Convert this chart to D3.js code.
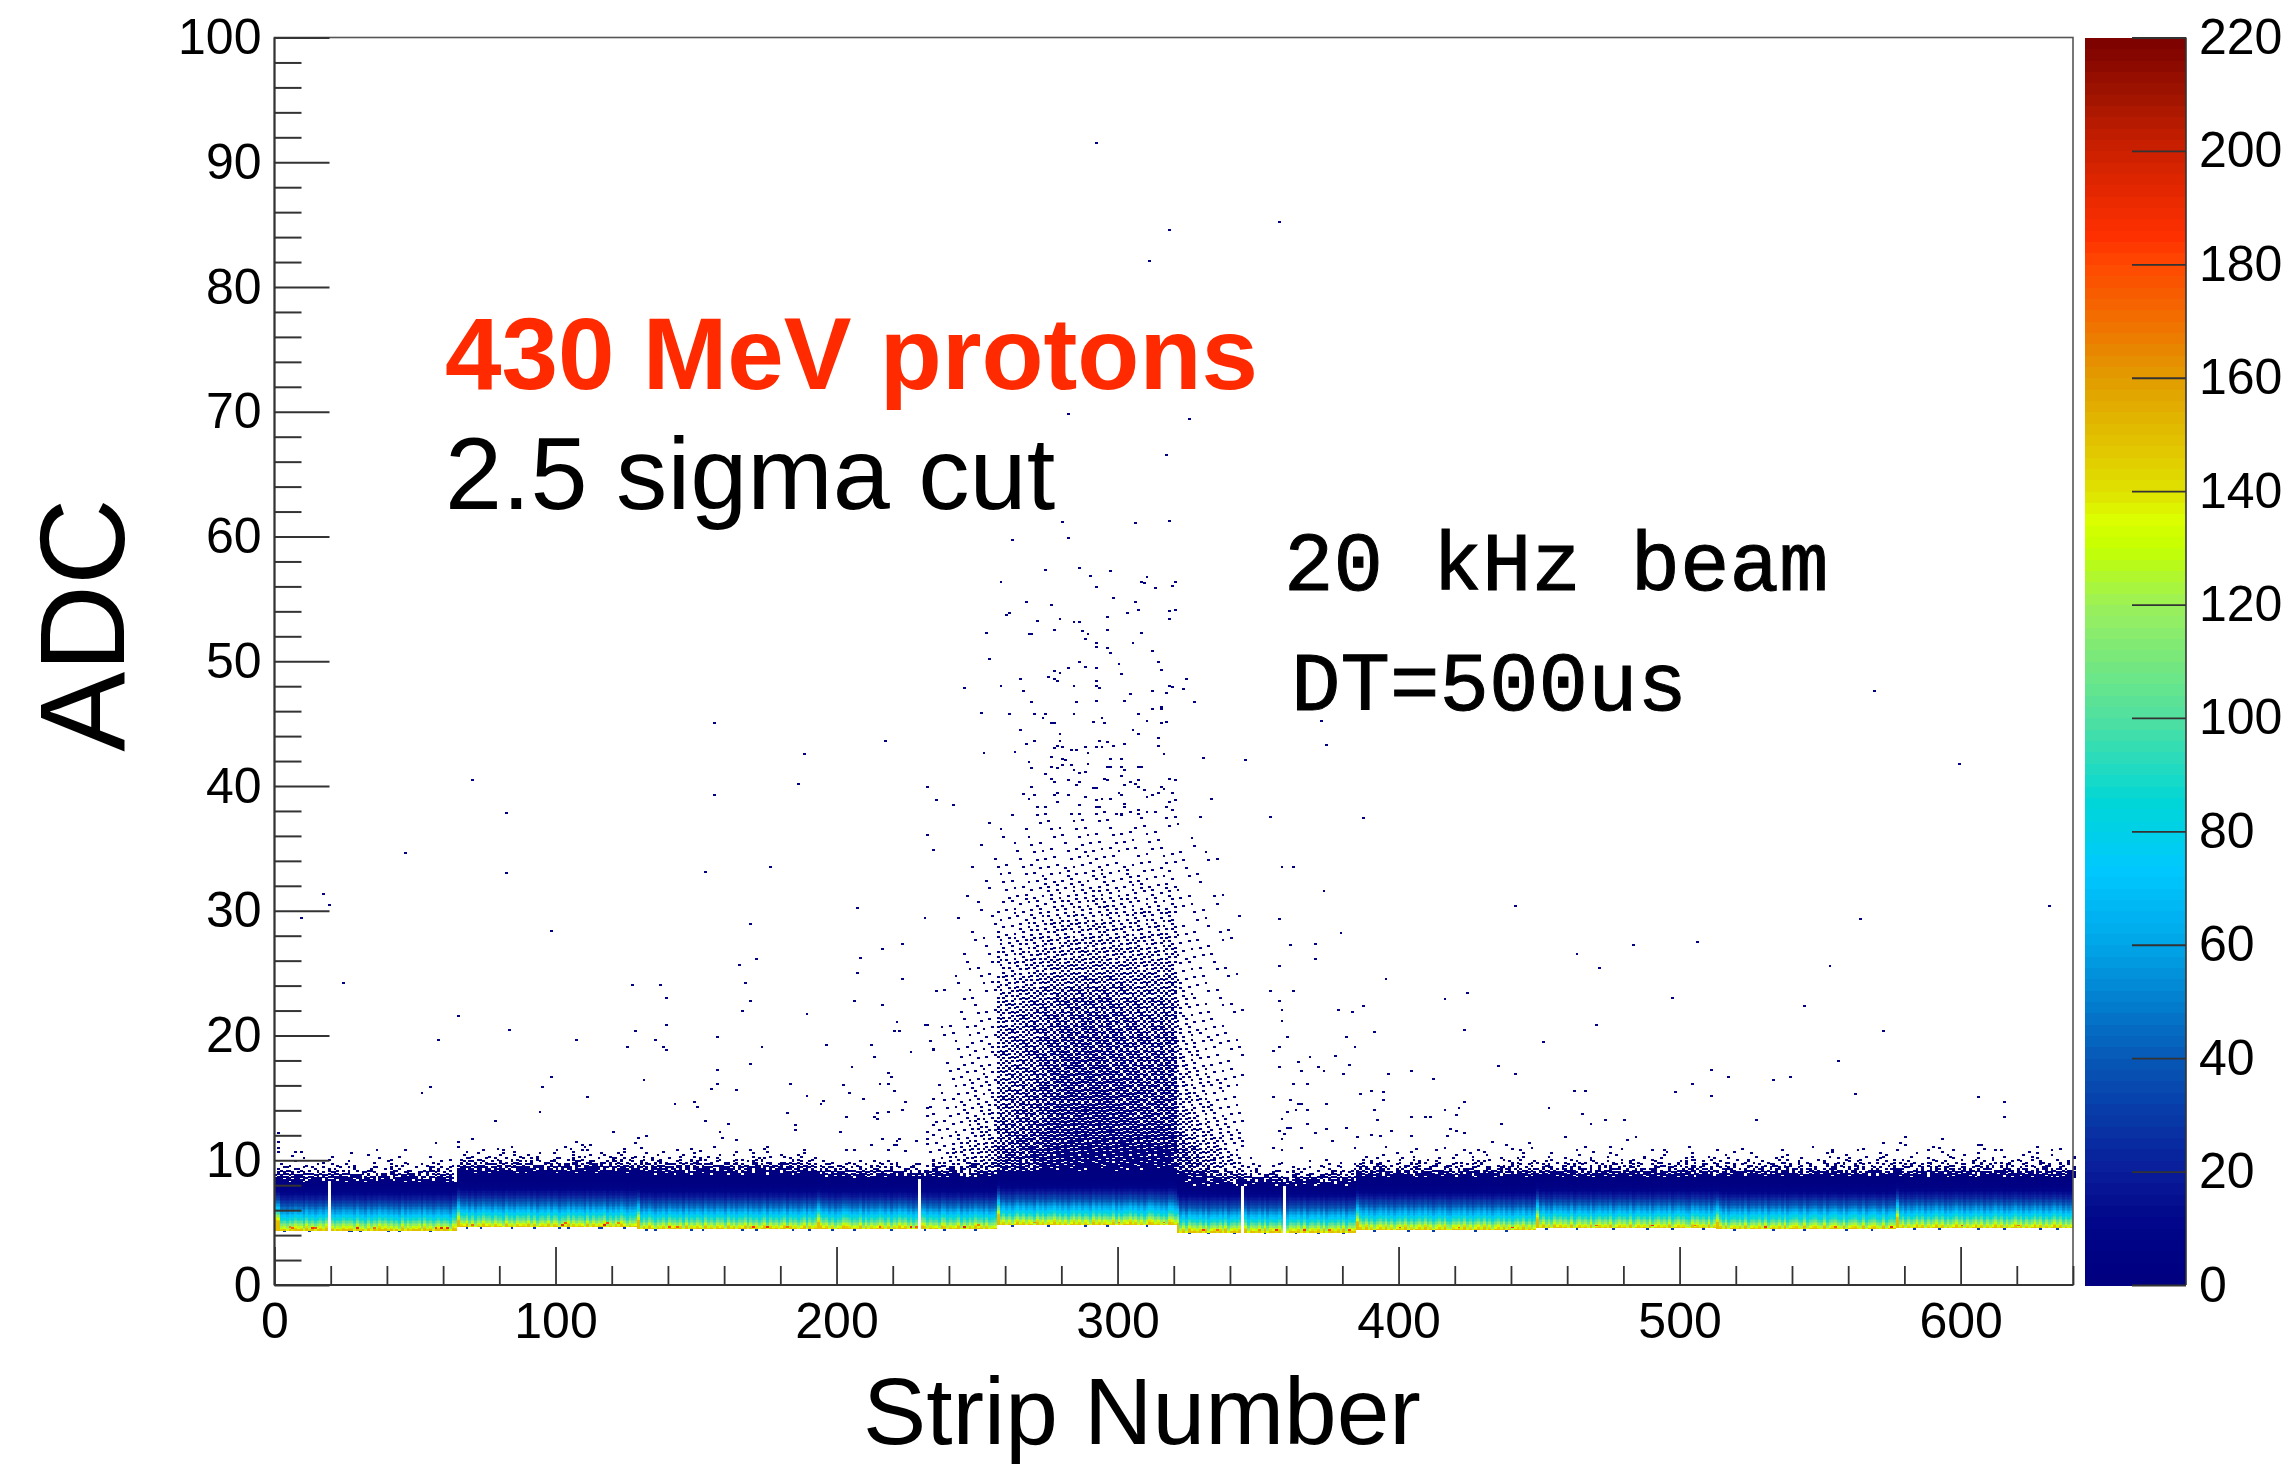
<!DOCTYPE html>
<html>
<head>
<meta charset="utf-8">
<script src="https://cdn.jsdelivr.net/npm/d3@7"></script>
<style>
    html, body { margin: 0; padding: 0; background: #fff; }
    svg text { font-family: "Liberation Sans", Arial, sans-serif; fill: #000; }
</style>
</head>
<body>
<div id="chart"></div>
<script>
// ticks
const xMajor = [0, 100, 200, 300, 400, 500, 600];
const xMinor = [20, 40, 60, 80, 120, 140, 160, 180, 220, 240, 260, 280, 320, 340, 360, 380, 420, 440, 460, 480, 520, 540, 560, 580, 620, 640];
const yMajor = [0, 10, 20, 30, 40, 50, 60, 70, 80, 90, 100];
const yMinor = [2, 4, 6, 8, 12, 14, 16, 18, 22, 24, 26, 28, 32, 34, 36, 38, 42, 44, 46, 48, 52, 54, 56, 58, 62, 64, 66, 68, 72, 74, 76, 78, 82, 84, 86, 88, 92, 94, 96, 98];
const zTicks = [0, 20, 40, 60, 80, 100, 120, 140, 160, 180, 200, 220];

// palette
const paletteValues = [0, 10, 20, 40, 60, 73, 85, 100, 120, 130, 135, 140, 160, 170, 180, 185, 200, 210, 220];
const paletteColors = ["#00007f", "#000488", "#0a1c9a", "#0658b5", "#00a5e8", "#00c8ff", "#00d6d8", "#50e0a0", "#9cf05a", "#c4ff00", "#dcff00", "#e0e000", "#e29c00", "#f07000", "#ff4800", "#ff3000", "#cc2000", "#a01400", "#7a0000"];

// pedestal band, one entry per readout chip (64 strips)
const binWidth = 0.125;
const segStarts = [0, 65, 129, 193, 257, 321, 385, 449, 513, 577];
const bandFloor = [4.35, 4.62, 4.46, 4.46, 4.8, 4.2, 4.4, 4.55, 4.45, 4.55];
const bandTop = [8.2, 8.9, 8.8, 8.5, 9, 7.9, 8.6, 8.6, 8.6, 8.6];
const bandProfile = [146, 132, 124, 114, 106, 98, 90, 84, 78, 72, 66, 60, 55, 50, 45, 40, 36, 32, 28, 24, 20, 17, 14, 11, 9, 7, 6, 5, 4, 3, 2];
const deadStrips = [19, 229, 344, 359];
const brightStrips = [0, 1, 65, 129, 193, 257, 321, 385, 449, 513, 577];

// relative strip gain, 0-9, estimated column by column
const stripGain = [
    "8745364756284635748263547566384527364857463528374657284635746528",
    "7465837264856374528463756483725648376254837465283746582637485264",
    "5637485264738564728364752846375628473658274635827463582746358274",
    "6485736254876354827364586372648573625487364528736458263748562734",
    "5847362584736528473658473625847365284736548273658473625874635287",
    "4637285647382564738256473826547382654738265473825647382564738265",
    "6574836257483625748362574836257483265748362574836257483625748362",
    "5748362857463825746382574638257463825746382574638257463285746382",
    "6473825647382564738256473825674382567438256743825674382567438256",
    "5847263584726358472635847263584726358472635847263584726358472635"
].join("");

// single hot cells near the floor of the band: strip, ADC, entries
const hotCells = [[5, 4.6, 165], [6, 4.5, 175], [13, 4.5, 185], [14, 4.5, 178], [29, 4.5, 190], [35, 4.5, 170], [57, 4.5, 180], [59, 4.5, 195], [61, 4.5, 188],
    [70, 4.75, 170], [102, 4.75, 190], [103, 4.9, 175], [117, 4.75, 195], [118, 4.9, 180], [122, 4.9, 165],
    [140, 4.6, 180], [143, 4.6, 175], [170, 4.6, 185], [175, 4.6, 190], [182, 4.6, 170],
    [215, 4.6, 175], [226, 4.6, 190], [228, 4.6, 175], [245, 4.6, 195], [250, 4.75, 165],
    [270, 4.95, 160], [300, 4.95, 165], [316, 4.95, 170],
    [330, 4.33, 185], [335, 4.33, 170], [350, 4.33, 160], [356, 4.33, 190], [366, 4.33, 185], [375, 4.33, 175], [382, 4.33, 180],
    [400, 4.55, 180], [421, 4.55, 170], [440, 4.55, 185], [470, 4.7, 175], [490, 4.7, 190], [505, 4.7, 170],
    [530, 4.6, 185], [555, 4.6, 175], [575, 4.6, 190], [600, 4.7, 180], [620, 4.7, 170]];

// strips with a few blue entries just under the band floor
const lowStrips = [3, 12, 26, 27, 30, 40, 44, 55, 68, 73, 84, 92, 101, 104, 115, 116, 124, 132, 135, 148, 152, 166, 171, 184, 190, 198, 206, 219, 231, 238, 249,
    262, 275, 288, 296, 310, 325, 332, 341, 352, 363, 371, 380, 391, 403, 412, 427, 438, 452, 463, 476, 488, 497, 508, 519, 533, 544, 559, 568, 583, 592, 606, 615, 628, 634];

// top edge of the band: rows going up from ADC 8.0 in bins of 0.125, one hex group per chip,
// each bit one strip. The pattern follows the density seen in the picture, not each single hit.
const fringeRows = [
    "0 0 0 0 0 fdeffb7fefdfbff7",
    "0 0 0 0 0 ffbdf7effefbdf7f",
    "fbdfefbf7ffdeffb 0 0 0 0 edb7a7f6d5bfe97b",
    "ffefbdfbf7dfbf7e 0 0 0 0 b7edd7b6fd7bebde",
    "edb7a7f6d5bfe97b 0 0 fdfbefff7bdfeff7 0 a5c3691e4b36d25a 0",
    "7bed5fdeb7a7edb6 0 0 effbdf7fffedfb7f 0 5a3c96e1b4693da5 fdeffb7fefdfbff7 ffbdf7effefbdf7f efdfbfdf7bfdeffb fbefdff7fdbf7ebf",
    "a5c3691e4b36d25a 0 0 edb7a7f6d5bfe97b 0 52a14c2190631a48 dfbff7fdefbfeffd fefbdf7fbdeffb7e f7dfbefdffbefdbf bfeff7dbfdf7fbef",
    "5a3c96e14b69d2a5 0 fdfbefdf7bfdfeff b7edd7b6fd7bebde 0 2c4912a4603185a2 edb7a7f6d5bfe97b b7ed6fd7ebbd7eda 7bded7fa5bef6db7 db6fbdeb76fdad77",
    "52a14c2190631a48 fdeffb7fefdfbff7 ffdfbefff7bdefbf a5c3691e4b36d25a f7ddfffffffffbff 4182140821480124 d6bb6de7adf5b76d 6fdeb5bd7beed6ba b7eb5dd6bf7ad7ed ededb76bdf5bb76f",
    "2c4912a4603185a2 ffbdf7effefbdf7f edb7a7f6d5bfe97b 5a3c96e14b69d2a5 edb7fffbffdfffff 1824412818402192 a5c3691e4b36d25a 5a3c96e1b4693da5 963ca5d2695ac3e1 c35a69b41ed2a596",
    "4182140821480124 edb7a7f6d5bfe97b b7ed6fd7ebbd7eda 52a14c2190631a48 b6edfbfefffdefff 0410020800140201 5ad296e14bc336a5 a569d23c96e14b5a 3ca5965ad2e1694b e14b5aa5c3962d69",
    "1824412818402192 7bed5fdeb7a7edb6 d6bb6de7adf5b76d 2c4912a4603185a2 7bd6efdffbf7ffbe 2001084000410820 52a14c2190631a48 2c4912a4603185a2 4a1292c4106528a1 184a6192a5084c21",
    "0410020800140201 a5c3691e4b36d25a a5c3691e4b36d25a 4182140821480124 d6b5fbeffdffdfef 0100800420001040 a1486218c4102942 186412a1482c5190 92184ca241286105 2491180ca5428610",
    "2001084000410820 5a3c96e14b69d2a5 5a3c96e1b4693da5 1824412818402192 a5dbdf7ffbefbf7b 0020001008000201 4182140821480124 2814811824412418 8241182441244812 1448218241841224",
    "0000400010020080 52a14c2190631a48 52a14c2190631a48 0410020800140201 5ab6f6ddefbdfbed 0001000004000020 2481128414280142 8121441248182481 1824218482141241 4218841214821824",
    "0100002000800010 2c4912a4603185a2 4182140821480124 2001084000410820 b5a5bf7bdeb7ef7e 0000200000010000 0410020800140201 1002084040201410 4010800402012008 0802401100481004",
    "0000100000400002 4182140821480124 2481128414280142 0 0 0004000000000400 2001084000410820 0408100220400182 0110024008021041 2004010820108040",
    "0020000004000000 1824412818402192 0410020800140201 0 0 0000002000000000 0100800420001040 0020100002080401 0800040200110020 0010080420002001",
    "0000080000000100 0410020800140201 2001084000410820 0 0 0 1000080000400010 0800004002000104 0002010000800410 0400100002008001",
    "0000000040000000 2001084000410820 0100800420001040 0 0 0 0040000010020000 0001000800040000 1000004000020008 0000208000040100",
    "0000001000000000 0100800420001040 1000080000400010 0 0 0 0002000000800010 0400002000000100 0008000001000020 0100000400002000",
    "0100000000000000 1000080000400010 0040000010020000 0 0 0 0000100000040000 0000080000020000 0200000000400000 0000800000010000",
    "0000000000020000 0040000010020000 0002000000800010 0 0 0 0000000800000020 0002000000400000 0000010000002000 0010000004000000",
    "0 0002000000800010 0000100000040000 0 0 0 0000040000000100 0000000200000000 0040000000000800 0000000100000020",
    "0 0000100000040000 0000001000020000 0 0 0 0020000000000000 0000400000000200 0000000020000000 0004000000002000"
];

// beam spot: percent of cells filled. One row per ADC unit from 8 up,
// one column per 4 strips from strip 233. The single hits inside this area are too dense to read
// one by one, so the spot is drawn as a halftone of this grid, not as the original hits.
const spotFirstStrip = 233;
const spotStripStep = 4;
const spotFirstAdc = 8;
const spotDensity = [
    [0, 0, 0, 0, 0, 0, 0, 0, 0, 0, 0, 0, 0, 0, 0, 0, 0, 0, 0, 0, 0, 0, 70, 55, 45, 35, 28, 22],
    [5, 8, 12, 16, 20, 25, 0, 0, 0, 0, 0, 0, 0, 0, 0, 0, 0, 0, 0, 0, 0, 0, 62, 50, 38, 28, 20, 15],
    [8, 12, 18, 22, 25, 30, 55, 60, 66, 72, 76, 80, 85, 85, 85, 85, 85, 85, 85, 85, 85, 85, 60, 45, 35, 28, 20, 15],
    [6, 8, 12, 16, 20, 24, 48, 52, 58, 62, 66, 70, 74, 76, 76, 76, 76, 76, 74, 74, 74, 76, 45, 35, 25, 20, 14, 10],
    [4, 6, 10, 12, 16, 20, 42, 46, 52, 58, 63, 67, 70, 72, 72, 72, 72, 70, 68, 68, 66, 68, 35, 28, 20, 15, 10, 7],
    [3, 5, 8, 10, 14, 16, 40, 42, 50, 55, 60, 65, 68, 70, 70, 70, 68, 66, 66, 64, 62, 66, 30, 22, 15, 12, 8, 6],
    [3, 4, 7, 9, 12, 14, 38, 40, 46, 52, 58, 63, 66, 68, 68, 68, 66, 64, 62, 62, 60, 64, 25, 18, 13, 10, 7, 5],
    [2, 4, 6, 8, 10, 12, 36, 38, 44, 50, 56, 60, 64, 66, 66, 66, 64, 62, 60, 58, 58, 61, 22, 16, 12, 9, 6, 4],
    [2, 3, 6, 7, 9, 11, 34, 38, 42, 48, 54, 58, 62, 64, 64, 64, 62, 60, 58, 56, 56, 58, 20, 15, 11, 8, 5, 4],
    [2, 3, 5, 6, 8, 10, 32, 36, 40, 46, 52, 56, 60, 62, 62, 62, 60, 58, 56, 54, 54, 56, 18, 14, 10, 7, 5, 3],
    [1, 3, 4, 6, 8, 9, 32, 36, 40, 44, 50, 54, 58, 60, 60, 60, 58, 56, 54, 52, 52, 54, 16, 12, 9, 6, 4, 3],
    [1, 2, 4, 5, 7, 8, 30, 34, 38, 42, 48, 52, 56, 58, 58, 58, 56, 54, 52, 50, 50, 52, 15, 11, 8, 6, 4, 3],
    [1, 2, 3, 5, 6, 7, 30, 32, 36, 40, 46, 50, 54, 56, 56, 56, 54, 52, 50, 48, 48, 50, 14, 10, 7, 5, 3, 2],
    [1, 2, 3, 4, 5, 6, 27, 30, 34, 38, 44, 46, 50, 52, 52, 52, 50, 48, 46, 44, 44, 46, 13, 9, 6, 5, 3, 2],
    [1, 1, 3, 4, 5, 5, 24, 27, 31, 36, 40, 44, 46, 48, 48, 48, 46, 44, 42, 42, 42, 44, 12, 8, 6, 4, 3, 2],
    [1, 1, 2, 3, 4, 5, 21, 24, 28, 32, 36, 39, 41, 42, 42, 42, 41, 39, 38, 36, 38, 40, 11, 7, 5, 4, 2, 2],
    [0, 1, 2, 3, 4, 4, 18, 21, 24, 28, 32, 34, 36, 37, 37, 36, 36, 34, 32, 32, 32, 34, 10, 7, 5, 3, 2, 1],
    [0, 1, 2, 3, 3, 4, 15, 17, 20, 24, 27, 29, 31, 32, 31, 31, 31, 29, 29, 27, 27, 29, 9, 6, 4, 3, 2, 1],
    [0, 1, 1, 2, 3, 3, 13, 15, 17, 20, 23, 25, 27, 27, 27, 27, 27, 25, 25, 23, 23, 25, 8, 6, 4, 3, 2, 1],
    [0, 1, 1, 2, 3, 3, 11, 12, 15, 17, 20, 21, 23, 23, 23, 23, 23, 21, 21, 20, 20, 21, 7, 5, 4, 2, 2, 1],
    [0, 0, 1, 2, 2, 3, 9, 10, 12, 14, 16, 18, 19, 19, 19, 19, 19, 18, 18, 16, 16, 18, 6, 5, 3, 2, 2, 1],
    [0, 0, 1, 1, 2, 2, 8, 9, 11, 12, 14, 16, 17, 17, 17, 17, 17, 16, 16, 14, 14, 16, 5, 4, 3, 2, 1, 1],
    [0, 0, 1, 1, 2, 2, 6, 7, 9, 10, 11, 13, 14, 14, 14, 14, 14, 13, 13, 11, 11, 13, 5, 4, 3, 2, 1, 1],
    [0, 0, 1, 1, 1, 2, 5, 6, 7, 8, 9, 11, 12, 12, 12, 12, 11, 11, 11, 9, 9, 11, 4, 3, 2, 2, 1, 1],
    [0, 0, 0, 1, 1, 2, 4, 5, 6, 7, 8, 9, 10, 10, 10, 10, 9, 9, 9, 8, 8, 9, 4, 3, 2, 1, 1, 0],
    [0, 0, 0, 1, 1, 1, 3, 4, 5, 6, 6, 7, 8, 8, 8, 8, 7, 7, 7, 6, 6, 7, 3, 3, 2, 1, 1, 0],
    [0, 0, 0, 1, 1, 1, 3, 3, 4, 5, 5, 5, 6, 6, 6, 6, 6, 5, 5, 5, 5, 6, 3, 2, 2, 1, 1, 0],
    [0, 0, 0, 0, 1, 1, 2, 3, 3, 4, 4, 4, 5, 5, 5, 5, 5, 4, 4, 4, 4, 5, 2, 2, 1, 1, 0, 0],
    [0, 0, 0, 0, 1, 1, 2, 2, 3, 3, 4, 4, 4, 4, 4, 4, 4, 4, 4, 4, 4, 4, 2, 2, 1, 1, 0, 0],
    [0, 0, 0, 0, 0, 1, 2, 2, 3, 3, 3, 3, 3, 4, 4, 4, 3, 3, 3, 3, 3, 4, 2, 1, 1, 0, 0, 0]
];

// single hits: strip, ADC
const sparseHits = [
    // left of the spot
    [156, 45], [217, 43.6], [188, 42.5], [70, 40.4], [186, 40.1], [232, 39.9], [156, 39.2], [82, 37.8], [232, 36], [234, 34.8], [46, 34.6], [176, 33.5], [153, 33.1], [82, 33],
    [17, 31.3], [19, 30.4], [207, 30.2], [9, 29.4], [231, 29.4], [169, 28.9], [98, 28.3], [223, 27.3], [216, 26.9], [208, 26.2], [171, 26.1], [165, 25.6], [207, 25], [223, 24.5],
    [24, 24.2], [167, 24.2], [127, 24], [137, 24], [139, 23], [169, 22.7], [206, 22.7], [216, 22.4], [166, 21.9], [65, 21.5], [189, 21.65], [221, 21], [231, 20.8], [232, 20.8],
    [139, 20.8], [83, 20.4], [128, 20.3], [220, 20.3], [222, 20.3], [157, 19.8], [58, 19.6], [107, 19.6], [135, 19.6], [196, 19.2], [212, 19.2], [125, 19.05], [138, 19.05],
    [139, 18.8], [173, 19.05], [234, 18.8], [226, 18.6], [213, 18.2], [169, 17.7], [205, 17.45], [157, 17.2], [218, 16.95], [98, 16.6], [219, 16.6], [131, 16.35], [55, 15.85],
    [95, 15.85], [157, 16.1], [183, 16.1], [202, 16], [215, 16.1], [218, 16.1], [155, 15.7], [164, 15.6], [52, 15.35], [204, 15.35], [220, 15.5], [111, 15], [189, 15.1],
    [209, 14.85], [234, 14.9], [195, 14.7], [194, 14.5], [149, 14.6], [142, 14.5], [150, 14.25], [224, 14.6], [232, 14.15], [223, 14], [214, 13.75], [218, 13.85], [94, 13.85],
    [182, 13.75], [203, 13.4], [213, 13.4], [214, 13.25], [232, 13.5], [78, 13.1], [153, 13.1], [161, 12.85], [185, 12.75], [185, 12.35], [234, 12.75], [120, 12.25], [158, 12.25],
    [201, 12.25], [232, 12.25], [1, 12.1], [132, 11.9], [129, 11.75], [70, 11.65], [159, 11.75], [216, 11.65], [222, 11.65], [232, 11.65],
    [57, 11.3], [65, 11.4], [65, 11], [81, 10.8], [103, 11], [107, 11.4], [109, 11.15], [112, 11.15], [109, 10.8], [128, 11.3], [130, 10.9], [151, 10.7], [164, 11.55],
    [212, 11.15], [220, 11.15], [221, 11.15], [221, 11.5], [232, 11.25], [228, 11.5], [203, 10.8], [206, 10.8], [218, 10.8], [224, 10.7],
    [1, 11.4], [1, 10.9], [1, 10.65], [6, 10.3], [9, 10.65], [36, 10.8], [44, 10.2],
    // above the spot
    [292, 91.5], [318, 84.5], [311, 82], [357, 85.2], [282, 69.8], [325, 69.4], [317, 66.5], [280, 61.1], [306, 61], [318, 61.2], [262, 59.7], [282, 59.8],
    [274, 57.3], [286, 57.4], [290, 56.8], [297, 57.2], [310, 56.7], [308, 56.3], [309, 56.2], [320, 56.3], [319, 56], [258, 56.3], [292, 55.9], [313, 55.8],
    [298, 55], [306, 54.7], [267, 54.7], [276, 54.45], [307, 54.1], [318, 54], [320, 54.1], [303, 53.8], [261, 53.8], [260, 53.7], [296, 53.5], [318, 53.35], [279, 53.35], [271, 53.2], [284, 53.1], [286, 53.1],
    [277, 52.5], [296, 52.5], [287, 52.4], [253, 52.2], [268, 52.1], [269, 52.1], [289, 52.1], [308, 52.2], [288, 51.75], [305, 51.4], [292, 51.4], [292, 51.1], [296, 51], [297, 50.65], [312, 50.75],
    [254, 50.15], [286, 49.9], [314, 49.9], [300, 49.75], [288, 49.5], [292, 49.4], [282, 49.4], [315, 49.25], [277, 49.15], [279, 49], [301, 48.9], [275, 48.7], [277, 48.5], [278, 48.4], [265, 48.5], [292, 48.4], [324, 48.5],
    [258, 48], [284, 48], [292, 48], [318, 48], [319, 47.9], [245, 47.8], [293, 47.8], [266, 47.55], [312, 47.55], [323, 47.7], [317, 47.4], [304, 47.3],
    [269, 46.7], [285, 46.7], [292, 46.75], [302, 46.8], [327, 46.7], [315, 46.3], [315, 46.1], [312, 46.1], [251, 45.8], [261, 45.7], [270, 45.7], [274, 45.7], [273, 45.4], [284, 45.7], [307, 45.7], [294, 45.4], [310, 45.2],
    [276, 45], [277, 45], [291, 45.1], [295, 45], [315, 45], [317, 45.1], [265, 44.45], [305, 44.45], [279, 44.1], [307, 44.1], [314, 43.8], [270, 43.6], [279, 43.6], [293, 43.6], [296, 43.5], [267, 43.3], [278, 43.2], [302, 43.35], [298, 43.2], [314, 43.2],
    [280, 43.1], [277, 43], [283, 42.85], [285, 42.85], [288, 43.1], [292, 43.1], [294, 43.1], [289, 42.6], [263, 42.7], [252, 42.6], [316, 42.5], [330, 42.2], [345, 42],
    [276, 42.3], [280, 42.1], [281, 42], [283, 41.65], [297, 42.1], [301, 42.1], [289, 41.75], [268, 41.9], [269, 41.4], [276, 41.5], [278, 41.4], [280, 41.65], [284, 41.25], [286, 41], [288, 41.1], [296, 41.5], [297, 41.5], [301, 41.5], [302, 41.25], [307, 41.5], [308, 41.5],
    [274, 40.9], [301, 40.75], [276, 40.5], [277, 40.3], [282, 40.4], [286, 40.3], [285, 40], [295, 40.5], [296, 40.4], [304, 40.3], [307, 40.4], [318, 40.5], [320, 40.4], [306, 40.15], [302, 40], [307, 39.9], [309, 39.65], [315, 39.9], [316, 39.75],
    [232, 39.9], [269, 39.9], [291, 39.8], [292, 39.8], [235, 38.8], [241, 38.4], [333, 38.9],
    [266, 39.3], [270, 39.2], [268, 38.9], [277, 39.2], [278, 39.4], [282, 39.2], [288, 39.05], [292, 38.8], [294, 38.9], [297, 38.9], [300, 39.4], [301, 39.2], [312, 39.2], [310, 39.05], [314, 39.4], [319, 39.4], [320, 38.8], [318, 38.7],
    [302, 38.5], [302, 38.25], [286, 38.4], [292, 38.3], [293, 38.3], [271, 38.3], [274, 38.3], [278, 38.7], [317, 38.3], [319, 38], [307, 38], [307, 37.7], [310, 37.85], [299, 37.7], [301, 37.6], [286, 37.7],
    // right of the spot
    [569, 47.6], [372, 45.2], [374, 43.25], [599, 41.75], [387, 37.35], [354, 37.5], [358, 33.5], [362, 33.5], [373, 31.5], [441, 30.3], [631, 30.3], [357, 29.3], [564, 29.3], [379, 28.2],
    [361, 27.2], [370, 27.3], [370, 26.1], [483, 27.2], [506, 27.45], [463, 26.5], [471, 25.4], [553, 25.5], [357, 25.5], [395, 24.5], [362, 23.5], [354, 23.5], [424, 23.4], [416, 22.9], [497, 23],
    [358, 22], [378, 22], [383, 21.8], [387, 22.3], [357, 22.75], [544, 22.3], [358, 21.15], [470, 20.8], [423, 20.4], [391, 20.2], [572, 20.3], [360, 19.8], [381, 19.8], [451, 19.45], [384, 19], [355, 18.7], [357, 19],
    [377, 18.3], [368, 18.2], [364, 17.85], [556, 17.95], [382, 17.6], [357, 17.4], [371, 17.4], [365, 17.1], [373, 17.1], [380, 16.9], [396, 16.85], [404, 17.1], [435, 17.5], [441, 16.85], [511, 17.2], [517, 16.6],
    [412, 16.5], [533, 16.35], [539, 16.6], [362, 16.1], [367, 16.1], [504, 16.1], [390, 15.5], [394, 15.4], [386, 15.25], [462, 15.5], [466, 15.5], [498, 15.4], [562, 15.25], [511, 15.1], [355, 15], [606, 15],
    [361, 14.75], [394, 14.75], [423, 14.6], [615, 14.6], [364, 14.5], [365, 14.5], [374, 14.5], [421, 14.15], [416, 14], [391, 14], [367, 13.95], [363, 13.95], [360, 13.8], [453, 14.15], [465, 13.65], [420, 13.55], [615, 13.4],
    [358, 13.3], [392, 13.2], [404, 13.4], [409, 13.4], [411, 13.4], [473, 13.15], [480, 13.15], [527, 13.15], [367, 12.9], [436, 12.9], [468, 12.9], [360, 12.55], [361, 12.55], [381, 12.55], [357, 12.3], [418, 12.45], [374, 12.45],
    [370, 12.15], [359, 12.05], [420, 12.3], [423, 12.15], [390, 12], [393, 11.9], [404, 11.9], [397, 12.3], [417, 11.9], [385, 11.8], [580, 11.8], [593, 11.65], [459, 11.8], [481, 11.55], [484, 11.8], [376, 11.5], [358, 11.65],
    [433, 11.4], [446, 11.3], [438, 11.2], [572, 11.3], [578, 11.3], [580, 11.2], [606, 11.2], [607, 11.2], [355, 10.95], [365, 10.95], [384, 10.95], [416, 10.95], [447, 10.95], [475, 11], [592, 10.9], [612, 10.8],
    [358, 10.8], [423, 10.8], [428, 10.8], [463, 10.8], [490, 10.8], [494, 10.8], [513, 10.8], [536, 10.8], [554, 10.8], [577, 10.8], [597, 10.8], [632, 10.8]
];

(function() {
    const width = 2289;
    const height = 1468;
    const frame = { left: 274.5, right: 2073, top: 37.5, bottom: 1285 };
    const bar = { left: 2085, right: 2186, tickX: 2132 };

    const x = d3.scaleLinear().domain([0, 640]).range([frame.left, frame.right]);
    const y = d3.scaleLinear().domain([0, 100]).range([frame.bottom, frame.top]);
    const z = d3.scaleLinear().domain([0, 220]).range([frame.bottom, frame.top]);
    const color = d3.scaleLinear().domain(paletteValues).range(paletteColors).clamp(true);

    const svg = d3.select("#chart")
        .append("svg")
        .attr("width", width)
        .attr("height", height)
        .style("display", "block");

    const cellW = x(1) - x(0);
    const cellH = y(0) - y(binWidth);

    const hits = sparseHits.map(d => ({ strip: d[0], adc: d[1] }));

    // Fringe rows: hex digits as strip bitmasks
    fringeRows.forEach((row, i) => {
        row.split(" ").forEach((group, g) => {
            group.split("").forEach((ch, d) => {
                const bits = parseInt(ch, 16);
                [8, 4, 2, 1].forEach((mask, b) => {
                    if (bits & mask) hits.push({ strip: segStarts[g] + d * 4 + b, adc: 8 + i * binWidth });
                });
            });
        });
    });

    // Halftone screen (interleaved gradient noise), only decides which cells of a block get painted
    function screen(strip, bin) {
        const v = 52.9829189 * ((0.06711056 * strip + 0.00583715 * bin) % 1);
        return (v % 1) * 100;
    }

    // Spot: paint each density block of the grid at its estimated fill
    spotDensity.forEach((row, r) => {
        row.forEach((percent, c) => {
            d3.range(spotStripStep).forEach(s => {
                d3.range(1 / binWidth).forEach(b => {
                    const strip = spotFirstStrip + c * spotStripStep + s;
                    const bin = (spotFirstAdc + r) / binWidth + b;
                    if (screen(strip, bin) < percent) hits.push({ strip: strip, adc: bin * binWidth });
                });
            });
        });
    });

    // Pedestal band cells
    const cells = [];
    d3.range(0, 640).forEach(strip => {
        if (deadStrips.includes(strip)) return;
        const seg = d3.bisectRight(segStarts, strip) - 1;
        const gain = (0.82 + 0.04 * +stripGain[strip]) * (brightStrips.includes(strip) ? 1.45 : 1);
        for (let b = 0; bandFloor[seg] + b * binWidth < bandTop[seg]; b++) {
            const base = bandProfile[Math.min(b, bandProfile.length - 1)];
            cells.push({ strip: strip, adc: bandFloor[seg] + b * binWidth, count: Math.max(2, Math.min(base * gain, 150)) });
        }
    });
    lowStrips.forEach(strip => {
        const seg = d3.bisectRight(segStarts, strip) - 1;
        cells.push({ strip: strip, adc: bandFloor[seg] - binWidth, count: 30 });
    });
    hotCells.forEach(d => cells.push({ strip: d[0], adc: d[1], count: d[2] }));

    svg.append("g")
        .selectAll("rect")
        .data(cells)
        .enter().append("rect")
        .attr("x", d => x(d.strip))
        .attr("y", d => y(d.adc) - cellH)
        .attr("width", cellW)
        .attr("height", cellH)
        .attr("shape-rendering", "crispEdges")
        .attr("fill", d => color(d.count));

    svg.append("g")
        .selectAll("rect")
        .data(hits)
        .enter().append("rect")
        .attr("x", d => x(d.strip))
        .attr("y", d => y(d.adc) - cellH)
        .attr("width", cellW)
        .attr("height", 2)
        .attr("shape-rendering", "crispEdges")
        .attr("fill", color(1));

    // Frame
    svg.append("rect")
        .attr("x", frame.left)
        .attr("y", frame.top)
        .attr("width", frame.right - frame.left)
        .attr("height", frame.bottom - frame.top)
        .attr("fill", "none")
        .attr("stroke", "#555")
        .attr("stroke-width", 1.6);

    // Axes, ticks point into the plot
    function styleAxis(g, w) {
        g.selectAll("path").remove();
        g.selectAll("line").attr("stroke", "#333").attr("stroke-width", w);
        g.selectAll("text").attr("fill", "#000").style("font-size", "50px").style("font-family", "\"Liberation Sans\", Arial, sans-serif");
    }

    svg.append("g")
        .attr("transform", `translate(0,${frame.bottom})`)
        .call(d3.axisBottom(x).tickValues(xMajor).tickFormat(d3.format("d")).tickSizeInner(-38).tickSizeOuter(0).tickPadding(17.5))
        .call(g => styleAxis(g, 1.8));
    svg.append("g")
        .attr("transform", `translate(0,${frame.bottom})`)
        .call(d3.axisBottom(x).tickValues(xMinor).tickFormat("").tickSizeInner(-19).tickSizeOuter(0))
        .call(g => styleAxis(g, 1.8));
    svg.append("g")
        .attr("transform", `translate(${frame.left},0)`)
        .call(d3.axisLeft(y).tickValues(yMajor).tickFormat(d3.format("d")).tickSizeInner(-55).tickSizeOuter(0).tickPadding(13))
        .call(g => styleAxis(g, 2));
    svg.append("g")
        .attr("transform", `translate(${frame.left},0)`)
        .call(d3.axisLeft(y).tickValues(yMinor).tickFormat("").tickSizeInner(-27).tickSizeOuter(0))
        .call(g => styleAxis(g, 2));

    // Left and bottom axis lines
    svg.append("line").attr("x1", frame.left).attr("x2", frame.left).attr("y1", frame.top).attr("y2", frame.bottom).attr("stroke", "#333").attr("stroke-width", 2);
    svg.append("line").attr("x1", frame.left).attr("x2", frame.right).attr("y1", frame.bottom).attr("y2", frame.bottom).attr("stroke", "#333").attr("stroke-width", 2);

    // Colour bar
    const barSteps = d3.range(0, 220, 2);
    svg.append("g")
        .selectAll("rect")
        .data(barSteps)
        .enter().append("rect")
        .attr("x", bar.left)
        .attr("y", d => z(d + 2))
        .attr("width", bar.right - bar.left)
        .attr("height", d => z(d) - z(d + 2) + 0.5)
        .attr("shape-rendering", "crispEdges")
        .attr("fill", d => color(d + 1));

    svg.append("g")
        .attr("transform", `translate(${bar.right},0)`)
        .call(d3.axisRight(z).tickValues(zTicks).tickFormat(d3.format("d")).tickSizeInner(bar.tickX - bar.right).tickSizeOuter(0).tickPadding(13))
        .call(g => styleAxis(g, 1.8));
    svg.append("line").attr("x1", bar.right).attr("x2", bar.right).attr("y1", frame.top).attr("y2", frame.bottom).attr("stroke", "#333").attr("stroke-width", 1.6);

    // Axis titles
    svg.append("text")
        .attr("x", 1142)
        .attr("y", 1444)
        .attr("text-anchor", "middle")
        .style("font-size", "94.7px")
        .text("Strip Number");
    svg.append("text")
        .attr("transform", "translate(124,625) rotate(-90)")
        .attr("text-anchor", "middle")
        .style("font-size", "120px")
        .text("ADC");

    // Annotations
    svg.append("text")
        .attr("x", 445)
        .attr("y", 389)
        .style("font-size", "101.6px")
        .style("font-weight", "bold")
        .style("fill", "#ff2a00")
        .text("430 MeV protons");
    svg.append("text")
        .attr("x", 445)
        .attr("y", 509)
        .style("font-size", "102.6px")
        .text("2.5 sigma cut");
    svg.append("text")
        .attr("x", 1284)
        .attr("y", 590)
        .style("font-family", "\"Liberation Mono\", monospace")
        .style("font-size", "82.5px")
        .style("stroke", "#000")
        .style("stroke-width", 1)
        .text("20 kHz beam");
    svg.append("text")
        .attr("x", 1291)
        .attr("y", 710)
        .style("font-family", "\"Liberation Mono\", monospace")
        .style("font-size", "82.5px")
        .style("stroke", "#000")
        .style("stroke-width", 1)
        .text("DT=500us");
})();
</script>
</body>
</html>
